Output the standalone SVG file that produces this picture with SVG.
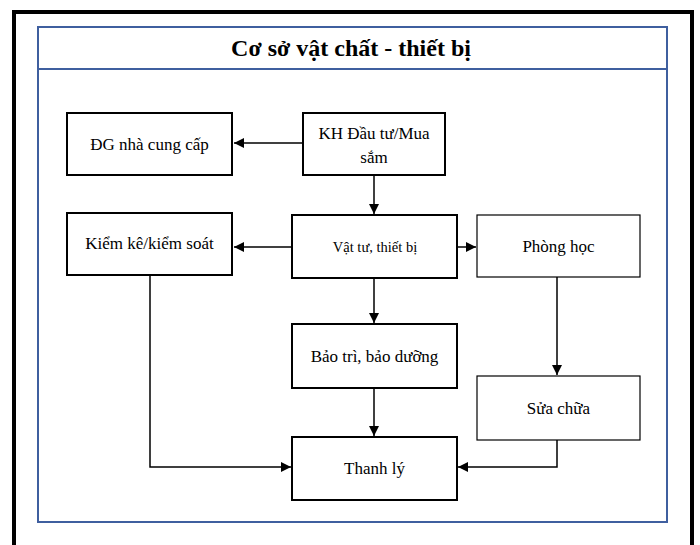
<svg xmlns="http://www.w3.org/2000/svg" width="700" height="545" viewBox="0 0 700 545">
<defs>
<marker id="ah" viewBox="0 0 10 10" refX="10" refY="5" markerWidth="10" markerHeight="10" markerUnits="userSpaceOnUse" orient="auto">
<path d="M0,0 L10,5 L0,10 z" fill="#000"/>
</marker>
<style>
.box{fill:#fff;stroke:#000;stroke-width:2}
.thin{fill:#fff;stroke:#000;stroke-width:1.2}
.t{font-family:"Liberation Serif","Times New Roman",serif;font-size:17px;fill:#000;text-anchor:middle}
.s{font-size:14.5px}
.c{fill:none;stroke:#000;stroke-width:1.5;marker-end:url(#ah)}
</style>
</defs>
<rect x="0" y="0" width="700" height="545" fill="#fff"/>
<rect x="14" y="12" width="678" height="560" fill="none" stroke="#000" stroke-width="4"/>
<g id="frame">
<rect x="38" y="27" width="629" height="495" fill="none" stroke="#3f5f9f" stroke-width="2"/>
<line x1="38" y1="69" x2="667" y2="69" stroke="#3f5f9f" stroke-width="2"/>
<text x="351" y="56" class="t" style="font-size:24px;font-weight:bold">Cơ sở vật chất - thiết bị</text>
</g>
<g id="connectors">
<line class="c" x1="303" y1="143" x2="234" y2="143"/>
<line class="c" x1="374" y1="176" x2="374" y2="214"/>
<line class="c" x1="292" y1="247" x2="234" y2="247"/>
<line class="c" x1="457" y1="247" x2="476" y2="247"/>
<line class="c" x1="374" y1="278" x2="374" y2="323"/>
<line class="c" x1="374" y1="389" x2="374" y2="436"/>
<line class="c" x1="557" y1="277" x2="557" y2="375"/>
<polyline class="c" points="150,275 150,467 291,467"/>
<polyline class="c" points="557,440 557,467 458,467"/>
</g>
<g id="dg"><rect class="box" x="67" y="113" width="165" height="62"/><text class="t" x="149.5" y="150">ĐG nhà cung cấp</text></g>
<g id="kh"><rect class="box" x="303" y="113" width="142" height="62"/><text class="t" x="374" y="139">KH Đầu tư/Mua</text><text class="t" x="374" y="163">sắm</text></g>
<g id="kk"><rect class="box" x="67" y="213" width="165" height="62"/><text class="t" x="149.5" y="249">Kiểm kê/kiểm soát</text></g>
<g id="vt"><rect class="box" x="292" y="215" width="165" height="63"/><text class="t s" x="375" y="252">Vật tư, thiết bị</text></g>
<g id="ph"><rect class="thin" x="477" y="215" width="163" height="62"/><text class="t" x="558.5" y="252">Phòng học</text></g>
<g id="bt"><rect class="box" x="292" y="324" width="165" height="64"/><text class="t" x="374.5" y="362">Bảo trì, bảo dưỡng</text></g>
<g id="sc"><rect class="thin" x="477" y="376" width="163" height="64"/><text class="t" x="558.5" y="414">Sửa chữa</text></g>
<g id="tl"><rect class="box" x="292" y="437" width="165" height="63"/><text class="t" x="374.5" y="474">Thanh lý</text></g>
</svg>
